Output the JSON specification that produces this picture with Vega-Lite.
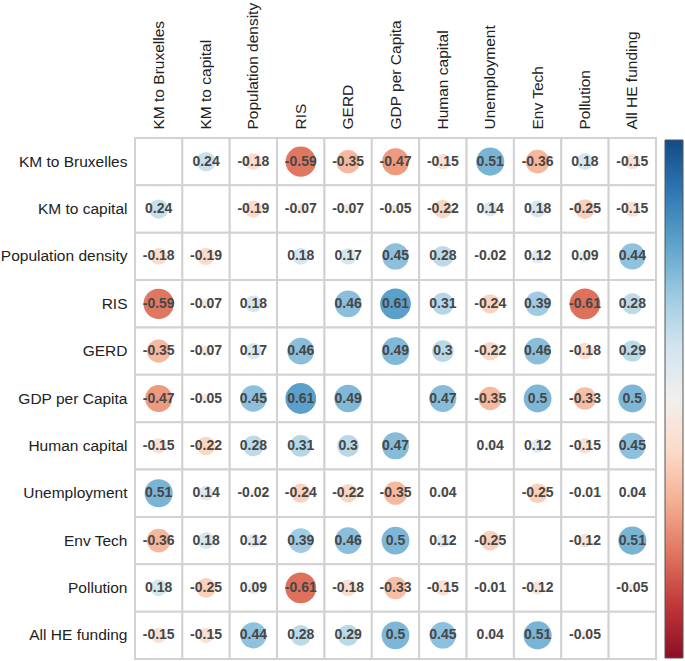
{
  "$schema": "https://vega.github.io/schema/vega-lite/v6.json",
  "autosize": "none",
  "width": 521,
  "height": 521,
  "padding": {"left": 135, "top": 138, "right": 29, "bottom": 2},
  "background": "white",
  "config": {
    "view": {"stroke": null},
    "font": "Liberation Sans"
  },
  "data": {
    "values": [
      {"row": "KM to Bruxelles", "col": "KM to Bruxelles", "r": null},
      {"row": "KM to Bruxelles", "col": "KM to capital", "r": 0.24},
      {"row": "KM to Bruxelles", "col": "Population density", "r": -0.18},
      {"row": "KM to Bruxelles", "col": "RIS", "r": -0.59},
      {"row": "KM to Bruxelles", "col": "GERD", "r": -0.35},
      {"row": "KM to Bruxelles", "col": "GDP per Capita", "r": -0.47},
      {"row": "KM to Bruxelles", "col": "Human capital", "r": -0.15},
      {"row": "KM to Bruxelles", "col": "Unemployment", "r": 0.51},
      {"row": "KM to Bruxelles", "col": "Env Tech", "r": -0.36},
      {"row": "KM to Bruxelles", "col": "Pollution", "r": 0.18},
      {"row": "KM to Bruxelles", "col": "All HE funding", "r": -0.15},

      {"row": "KM to capital", "col": "KM to Bruxelles", "r": 0.24},
      {"row": "KM to capital", "col": "KM to capital", "r": null},
      {"row": "KM to capital", "col": "Population density", "r": -0.19},
      {"row": "KM to capital", "col": "RIS", "r": -0.07},
      {"row": "KM to capital", "col": "GERD", "r": -0.07},
      {"row": "KM to capital", "col": "GDP per Capita", "r": -0.05},
      {"row": "KM to capital", "col": "Human capital", "r": -0.22},
      {"row": "KM to capital", "col": "Unemployment", "r": 0.14},
      {"row": "KM to capital", "col": "Env Tech", "r": 0.18},
      {"row": "KM to capital", "col": "Pollution", "r": -0.25},
      {"row": "KM to capital", "col": "All HE funding", "r": -0.15},

      {"row": "Population density", "col": "KM to Bruxelles", "r": -0.18},
      {"row": "Population density", "col": "KM to capital", "r": -0.19},
      {"row": "Population density", "col": "Population density", "r": null},
      {"row": "Population density", "col": "RIS", "r": 0.18},
      {"row": "Population density", "col": "GERD", "r": 0.17},
      {"row": "Population density", "col": "GDP per Capita", "r": 0.45},
      {"row": "Population density", "col": "Human capital", "r": 0.28},
      {"row": "Population density", "col": "Unemployment", "r": -0.02},
      {"row": "Population density", "col": "Env Tech", "r": 0.12},
      {"row": "Population density", "col": "Pollution", "r": 0.09},
      {"row": "Population density", "col": "All HE funding", "r": 0.44},

      {"row": "RIS", "col": "KM to Bruxelles", "r": -0.59},
      {"row": "RIS", "col": "KM to capital", "r": -0.07},
      {"row": "RIS", "col": "Population density", "r": 0.18},
      {"row": "RIS", "col": "RIS", "r": null},
      {"row": "RIS", "col": "GERD", "r": 0.46},
      {"row": "RIS", "col": "GDP per Capita", "r": 0.61},
      {"row": "RIS", "col": "Human capital", "r": 0.31},
      {"row": "RIS", "col": "Unemployment", "r": -0.24},
      {"row": "RIS", "col": "Env Tech", "r": 0.39},
      {"row": "RIS", "col": "Pollution", "r": -0.61},
      {"row": "RIS", "col": "All HE funding", "r": 0.28},

      {"row": "GERD", "col": "KM to Bruxelles", "r": -0.35},
      {"row": "GERD", "col": "KM to capital", "r": -0.07},
      {"row": "GERD", "col": "Population density", "r": 0.17},
      {"row": "GERD", "col": "RIS", "r": 0.46},
      {"row": "GERD", "col": "GERD", "r": null},
      {"row": "GERD", "col": "GDP per Capita", "r": 0.49},
      {"row": "GERD", "col": "Human capital", "r": 0.3},
      {"row": "GERD", "col": "Unemployment", "r": -0.22},
      {"row": "GERD", "col": "Env Tech", "r": 0.46},
      {"row": "GERD", "col": "Pollution", "r": -0.18},
      {"row": "GERD", "col": "All HE funding", "r": 0.29},

      {"row": "GDP per Capita", "col": "KM to Bruxelles", "r": -0.47},
      {"row": "GDP per Capita", "col": "KM to capital", "r": -0.05},
      {"row": "GDP per Capita", "col": "Population density", "r": 0.45},
      {"row": "GDP per Capita", "col": "RIS", "r": 0.61},
      {"row": "GDP per Capita", "col": "GERD", "r": 0.49},
      {"row": "GDP per Capita", "col": "GDP per Capita", "r": null},
      {"row": "GDP per Capita", "col": "Human capital", "r": 0.47},
      {"row": "GDP per Capita", "col": "Unemployment", "r": -0.35},
      {"row": "GDP per Capita", "col": "Env Tech", "r": 0.5},
      {"row": "GDP per Capita", "col": "Pollution", "r": -0.33},
      {"row": "GDP per Capita", "col": "All HE funding", "r": 0.5},

      {"row": "Human capital", "col": "KM to Bruxelles", "r": -0.15},
      {"row": "Human capital", "col": "KM to capital", "r": -0.22},
      {"row": "Human capital", "col": "Population density", "r": 0.28},
      {"row": "Human capital", "col": "RIS", "r": 0.31},
      {"row": "Human capital", "col": "GERD", "r": 0.3},
      {"row": "Human capital", "col": "GDP per Capita", "r": 0.47},
      {"row": "Human capital", "col": "Human capital", "r": null},
      {"row": "Human capital", "col": "Unemployment", "r": 0.04},
      {"row": "Human capital", "col": "Env Tech", "r": 0.12},
      {"row": "Human capital", "col": "Pollution", "r": -0.15},
      {"row": "Human capital", "col": "All HE funding", "r": 0.45},

      {"row": "Unemployment", "col": "KM to Bruxelles", "r": 0.51},
      {"row": "Unemployment", "col": "KM to capital", "r": 0.14},
      {"row": "Unemployment", "col": "Population density", "r": -0.02},
      {"row": "Unemployment", "col": "RIS", "r": -0.24},
      {"row": "Unemployment", "col": "GERD", "r": -0.22},
      {"row": "Unemployment", "col": "GDP per Capita", "r": -0.35},
      {"row": "Unemployment", "col": "Human capital", "r": 0.04},
      {"row": "Unemployment", "col": "Unemployment", "r": null},
      {"row": "Unemployment", "col": "Env Tech", "r": -0.25},
      {"row": "Unemployment", "col": "Pollution", "r": -0.01},
      {"row": "Unemployment", "col": "All HE funding", "r": 0.04},

      {"row": "Env Tech", "col": "KM to Bruxelles", "r": -0.36},
      {"row": "Env Tech", "col": "KM to capital", "r": 0.18},
      {"row": "Env Tech", "col": "Population density", "r": 0.12},
      {"row": "Env Tech", "col": "RIS", "r": 0.39},
      {"row": "Env Tech", "col": "GERD", "r": 0.46},
      {"row": "Env Tech", "col": "GDP per Capita", "r": 0.5},
      {"row": "Env Tech", "col": "Human capital", "r": 0.12},
      {"row": "Env Tech", "col": "Unemployment", "r": -0.25},
      {"row": "Env Tech", "col": "Env Tech", "r": null},
      {"row": "Env Tech", "col": "Pollution", "r": -0.12},
      {"row": "Env Tech", "col": "All HE funding", "r": 0.51},

      {"row": "Pollution", "col": "KM to Bruxelles", "r": 0.18},
      {"row": "Pollution", "col": "KM to capital", "r": -0.25},
      {"row": "Pollution", "col": "Population density", "r": 0.09},
      {"row": "Pollution", "col": "RIS", "r": -0.61},
      {"row": "Pollution", "col": "GERD", "r": -0.18},
      {"row": "Pollution", "col": "GDP per Capita", "r": -0.33},
      {"row": "Pollution", "col": "Human capital", "r": -0.15},
      {"row": "Pollution", "col": "Unemployment", "r": -0.01},
      {"row": "Pollution", "col": "Env Tech", "r": -0.12},
      {"row": "Pollution", "col": "Pollution", "r": null},
      {"row": "Pollution", "col": "All HE funding", "r": -0.05},

      {"row": "All HE funding", "col": "KM to Bruxelles", "r": -0.15},
      {"row": "All HE funding", "col": "KM to capital", "r": -0.15},
      {"row": "All HE funding", "col": "Population density", "r": 0.44},
      {"row": "All HE funding", "col": "RIS", "r": 0.28},
      {"row": "All HE funding", "col": "GERD", "r": 0.29},
      {"row": "All HE funding", "col": "GDP per Capita", "r": 0.5},
      {"row": "All HE funding", "col": "Human capital", "r": 0.45},
      {"row": "All HE funding", "col": "Unemployment", "r": 0.04},
      {"row": "All HE funding", "col": "Env Tech", "r": 0.51},
      {"row": "All HE funding", "col": "Pollution", "r": -0.05},
      {"row": "All HE funding", "col": "All HE funding", "r": null}
    ]
  },
  "encoding": {
    "x": {
      "field": "col", "type": "nominal",
      "sort": ["KM to Bruxelles","KM to capital","Population density","RIS","GERD","GDP per Capita","Human capital","Unemployment","Env Tech","Pollution","All HE funding"],
      "scale": {"paddingInner": 0, "paddingOuter": 0},
      "axis": {"orient": "top", "title": null, "labelAngle": -90, "labelFontSize": 15.5, "labelColor": "#222222", "labelPadding": 9, "labelLimit": 200, "ticks": false, "domain": false, "grid": false}
    },
    "y": {
      "field": "row", "type": "nominal",
      "sort": ["KM to Bruxelles","KM to capital","Population density","RIS","GERD","GDP per Capita","Human capital","Unemployment","Env Tech","Pollution","All HE funding"],
      "scale": {"paddingInner": 0, "paddingOuter": 0},
      "axis": {"title": null, "labelFontSize": 15.5, "labelColor": "#222222", "labelPadding": 8, "labelLimit": 200, "ticks": false, "domain": false, "grid": false}
    }
  },
  "layer": [
    {
      "mark": {"type": "rect", "fill": "white", "stroke": "#d2d2d2", "strokeWidth": 2}
    },
    {
      "transform": [{"filter": "datum.r != null"}],
      "mark": {"type": "circle", "opacity": 1},
      "encoding": {
        "size": {"field": "r", "type": "quantitative", "scale": {"type": "linear", "domain": [-1, 0, 1], "range": [1550, 0, 1550]}, "legend": null},
        "color": {
          "field": "r", "type": "quantitative",
          "scale": {"scheme": "redblue", "domain": [-1, 1]},
          "legend": {"title": null, "orient": "none", "legendX": 530, "legendY": 2, "direction": "vertical", "gradientLength": 518, "gradientThickness": 18, "gradientStrokeColor": "#555555", "gradientStrokeWidth": 1, "labelExpr": "''", "labelFontSize": 0}
        }
      }
    },
    {
      "transform": [{"filter": "datum.r != null"}],
      "mark": {"type": "text", "fontSize": 14, "fontWeight": "bold", "color": "#474747"},
      "encoding": {
        "text": {"field": "r", "type": "nominal"}
      }
    }
  ]
}
